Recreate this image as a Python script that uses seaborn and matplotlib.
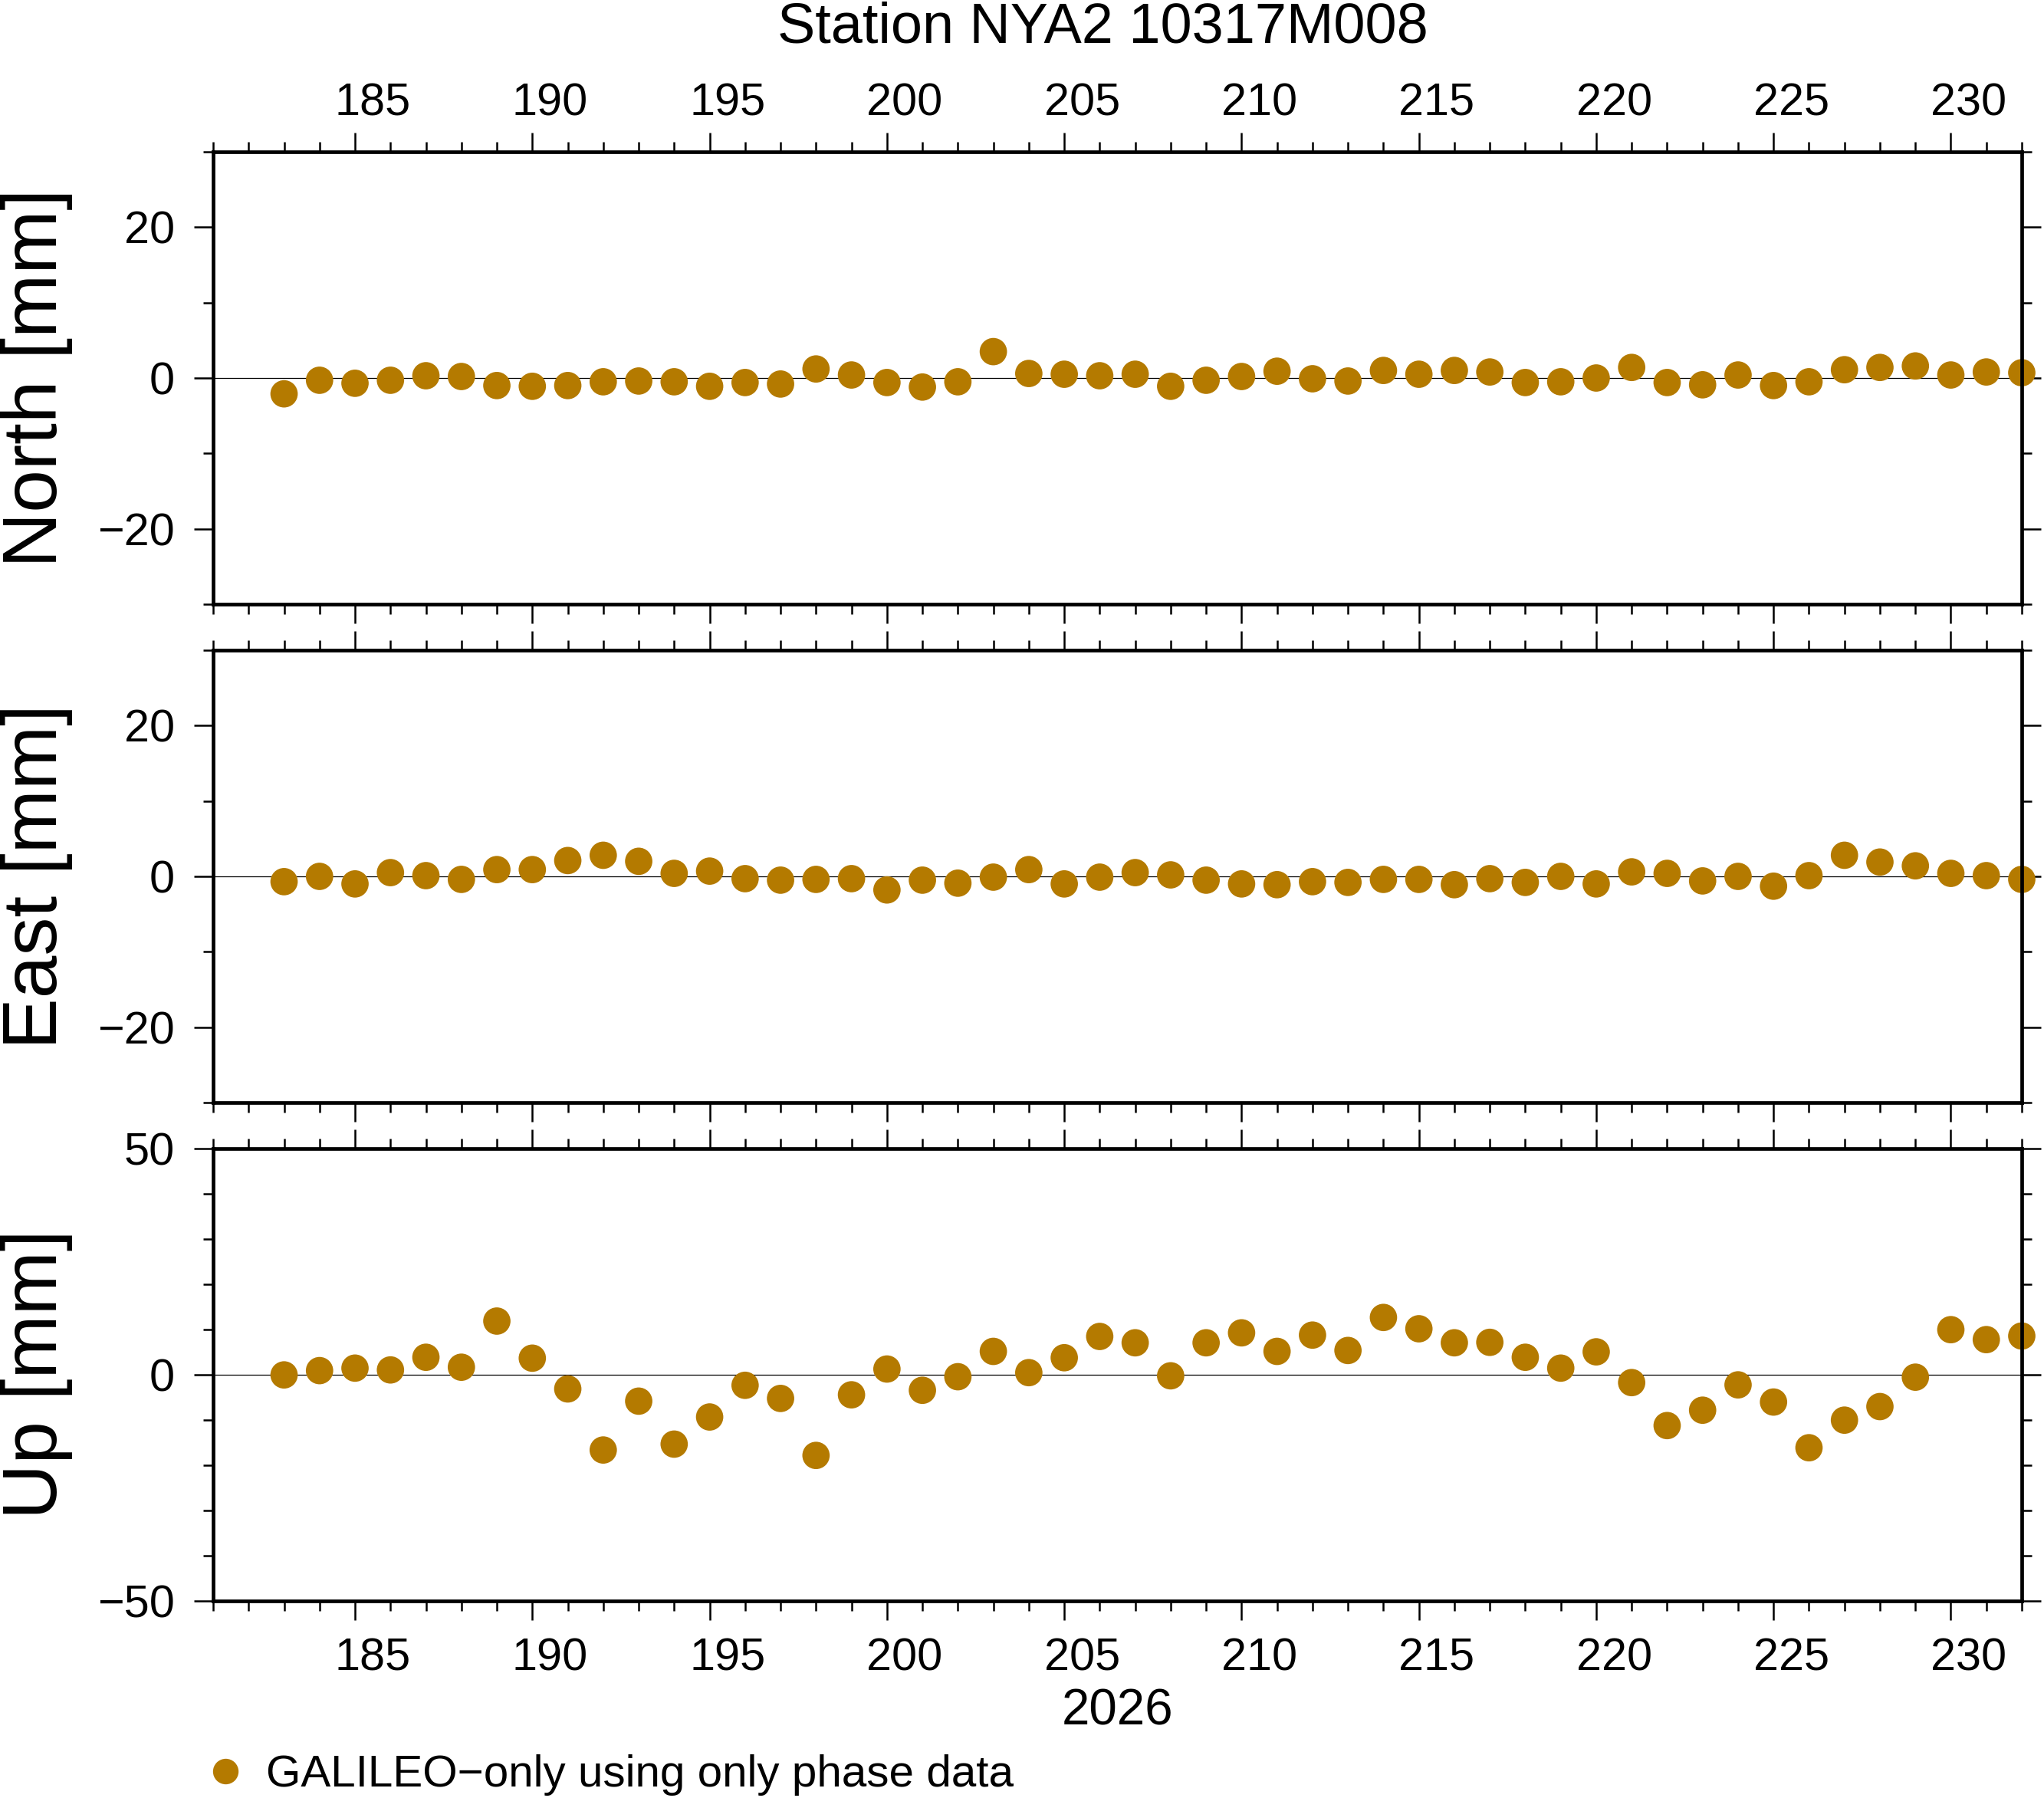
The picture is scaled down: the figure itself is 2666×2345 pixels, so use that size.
import matplotlib
matplotlib.use("Agg")
import matplotlib.pyplot as plt
from matplotlib.ticker import MultipleLocator
from matplotlib.lines import Line2D
from matplotlib.transforms import ScaledTranslation
import seaborn as sns
import pandas as pd

days = [183, 184, 185, 186, 187, 188, 189, 190, 191, 192,
        193, 194, 195, 196, 197, 198, 199, 200, 201, 202,
        203, 204, 205, 206, 207, 208, 209, 210, 211, 212,
        213, 214, 215, 216, 217, 218, 219, 220, 221, 222,
        223, 224, 225, 226, 227, 228, 229, 230, 231, 232]

north = [-2.1, -0.3, -0.7, -0.3, 0.3, 0.2, -1.0, -1.1, -1.0, -0.5,
         -0.4, -0.5, -1.1, -0.6, -0.8, 1.2, 0.4, -0.6, -1.2, -0.5,
         3.5, 0.6, 0.5, 0.3, 0.5, -1.1, -0.3, 0.2, 0.9, -0.1,
         -0.4, 1.0, 0.5, 1.0, 0.8, -0.6, -0.5, 0.0, 1.4, -0.6,
         -0.9, 0.4, -1.0, -0.5, 1.1, 1.4, 1.6, 0.4, 0.8, 0.7]

east = [-0.7, 0.0, -1.0, 0.5, 0.1, -0.4, 0.9, 0.9, 2.1, 2.8,
        2.0, 0.4, 0.7, -0.3, -0.5, -0.4, -0.3, -1.8, -0.5, -0.9,
        -0.1, 0.9, -1.0, -0.1, 0.5, 0.2, -0.5, -1.0, -1.1, -0.7,
        -0.8, -0.4, -0.4, -1.1, -0.3, -0.8, 0.0, -1.0, 0.6, 0.4,
        -0.6, 0.0, -1.3, 0.1, 2.8, 1.9, 1.4, 0.4, 0.1, -0.4]

up = [-0.1, 0.85, 1.4, 1.0, 3.8, 1.6, 11.8, 3.6, -3.2, -16.7,
      -5.9, -15.4, -9.4, -2.4, -5.3, -17.9, -4.5, 1.2, -3.5, -0.5,
      5.1, 0.4, 3.7, 8.4, 7.0, -0.3, 7.0, 9.2, 5.1, 8.7,
      5.3, 12.6, 10.1, 7.0, 7.1, 3.8, 1.4, 5.0, -1.8, -11.3,
      -7.9, -2.3, -6.1, -16.2, -10.1, -7.1, -0.6, 9.9, 7.7, 8.5]

components = ["North", "East", "Up"]
ylabels = ["North [mm]", "East [mm]", "Up [mm]"]
ylims = [(-30, 30), (-30, 30), (-50, 50)]
ymajor = [20, 20, 50]
title = "Station NYA2 10317M008"
year_label = "2026"
legend_label = "GALILEO\u2212only using only phase data"
marker_color = "#B47A00"

df = pd.DataFrame({"day": days, "North": north, "East": east, "Up": up})

sns.set_theme(style="ticks")
plt.rcParams["font.family"] = ["Liberation Sans", "DejaVu Sans"]
plt.rcParams["axes.unicode_minus"] = True
plt.rcParams["text.color"] = "black"
plt.rcParams["axes.labelcolor"] = "black"
plt.rcParams["xtick.color"] = "black"
plt.rcParams["ytick.color"] = "black"
plt.rcParams["xtick.labelcolor"] = "black"
plt.rcParams["ytick.labelcolor"] = "black"

W, H = 2666, 2345
dpi = 200
fig = plt.figure(figsize=(W / dpi, H / dpi), dpi=dpi)

left = 278 / W
width = (2637 - 278) / W
ph = 590 / H
tops = [198, 848, 1497.6]

axes = []
for i, comp in enumerate(components):
    bottom = 1 - (tops[i] + 590) / H
    ax = fig.add_axes([left, bottom, width, ph])
    axes.append(ax)
    ax.axhline(0, color="black", lw=0.45, zorder=0.5)
    sns.scatterplot(data=df, x="day", y=comp, ax=ax, color=marker_color,
                    s=165, edgecolor="none", linewidth=0, legend=False,
                    clip_on=False, zorder=1)
    ax.set_xlim(181, 232)
    ax.set_ylim(*ylims[i])
    ax.xaxis.set_major_locator(MultipleLocator(5))
    ax.xaxis.set_minor_locator(MultipleLocator(1))
    ax.yaxis.set_major_locator(MultipleLocator(ymajor[i]))
    ax.yaxis.set_minor_locator(MultipleLocator(10))
    for sp in ax.spines.values():
        sp.set_visible(True)
        sp.set_linewidth(1.7)
        sp.set_color("black")
    ax.tick_params(which="both", direction="out", top=True, bottom=True,
                   left=True, right=True, color="black", width=0.9)
    ax.tick_params(which="major", length=9)
    ax.tick_params(which="minor", length=4.8)
    ax.tick_params(axis="y", which="major", labelsize=21.4, pad=9,
                   labelleft=True, labelright=False, labelcolor="black")
    ax.tick_params(axis="x", labelsize=21.4, labelbottom=False, labeltop=False,
                   labelcolor="black")
    ax.set_xlabel("")
    ax.set_ylabel(ylabels[i], fontsize=36, color="black")
    ax.yaxis.set_label_coords(-0.0775, 0.5)
    ax.set_facecolor("white")

axes[0].tick_params(axis="x", which="major", labeltop=True, pad=3.8)
axes[2].tick_params(axis="x", which="major", labelbottom=True, pad=8.3)
axes[2].set_xlabel(year_label, fontsize=23.6, labelpad=4, color="black")

fig.text(1438 / W, 1 - 56 / H, title, ha="center", va="baseline",
         fontsize=26.6, color="black")

handle = Line2D([], [], linestyle="none", marker="o", markersize=12,
                markerfacecolor=marker_color, markeredgecolor="none")
fig.legend(handles=[handle], labels=[legend_label], loc="center left",
           bbox_to_anchor=(265 / W, 1 - 2315 / H), frameon=False,
           fontsize=21, handlelength=1.0, handletextpad=0.40,
           borderpad=0, borderaxespad=0)

# day labels sit in the middle of each day interval (half a day right of the tick)
fig.canvas.draw()
day_px = width * W / (232 - 181)
shift = ScaledTranslation(0.5 * day_px / dpi, 0, fig.dpi_scale_trans)
for ax in (axes[0], axes[2]):
    for tick in ax.xaxis.get_major_ticks():
        tick.label1.set_transform(tick.label1.get_transform() + shift)
        tick.label2.set_transform(tick.label2.get_transform() + shift)

fig.savefig("out.png", dpi=dpi, facecolor="white")
